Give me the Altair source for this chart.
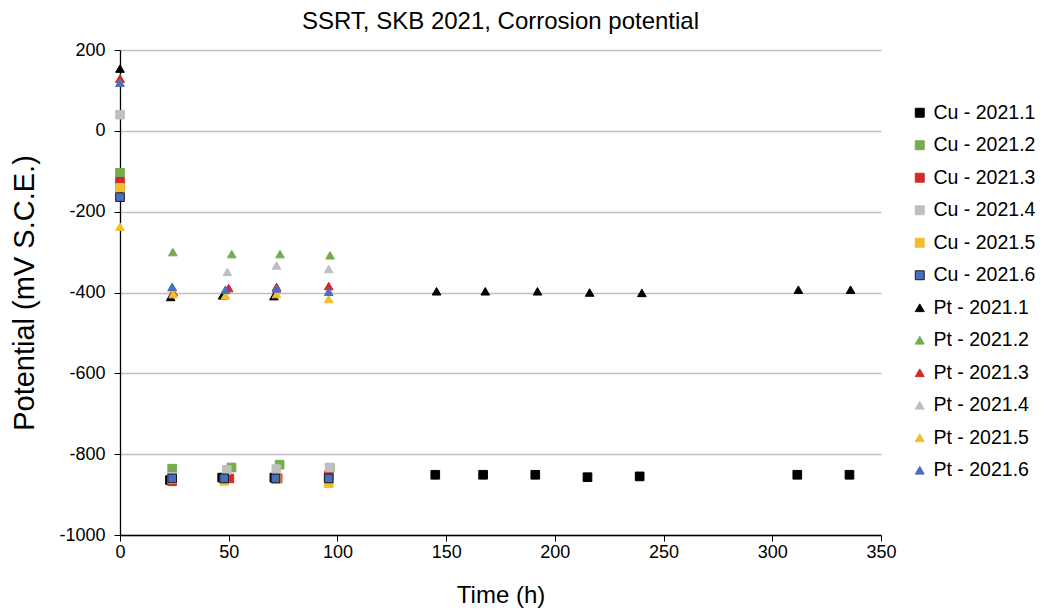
import altair as alt
import pandas as pd

series_names = ["Cu - 2021.1", "Cu - 2021.2", "Cu - 2021.3", "Cu - 2021.4", "Cu - 2021.5", "Cu - 2021.6",
                "Pt - 2021.1", "Pt - 2021.2", "Pt - 2021.3", "Pt - 2021.4", "Pt - 2021.5", "Pt - 2021.6"]

cu1_t = [0, 23, 47, 71, 145, 167, 191, 215, 239, 311.5, 335.5]
cu1_v = [-138, -864, -858, -858, -851, -851, -851, -857, -855, -851, -851]
cu2_t = [0, 24, 51.3, 73.4, 96.5]
cu2_v = [-104, -836, -833, -826, -834]
cu3_t = [0, 24, 50.3, 72.5, 96]
cu3_v = [-126, -867, -860, -860, -853]
cu4_t = [0, 24, 49.1, 71.9, 96.4]
cu4_v = [40, -856, -839, -837, -833]
cu5_t = [0, 24, 48, 72, 96]
cu5_v = [-141, -862, -866, -862, -872]
cu6_t = [0, 24, 47.9, 71.5, 96]
cu6_v = [-164, -860, -860, -860, -860]

pt1_t = [0, 23.3, 47.2, 70.8, 145.6, 168, 192, 216, 240, 312, 336]
pt1_v = [154, -411, -407, -409, -397, -397, -397, -400, -401, -393, -393]
pt2_t = [0, 24.3, 51.4, 73.6, 96.6]
pt2_v = [130, -300, -305, -305, -308]
pt3_t = [0, 24.5, 50, 72, 96]
pt3_v = [129, -399, -389, -386, -384]
pt4_t = [0, 24, 49.4, 72, 96]
pt4_v = [119, -388, -349, -333, -342]
pt5_t = [0, 24.5, 48.5, 72, 96]
pt5_v = [-237, -404, -407, -404, -416]
pt6_t = [0, 24, 48.5, 72, 96]
pt6_v = [119, -386, -393, -390, -398]

times = [cu1_t, cu2_t, cu3_t, cu4_t, cu5_t, cu6_t, pt1_t, pt2_t, pt3_t, pt4_t, pt5_t, pt6_t]
values = [cu1_v, cu2_v, cu3_v, cu4_v, cu5_v, cu6_v, pt1_v, pt2_v, pt3_v, pt4_v, pt5_v, pt6_v]

fill_colors = ["#000000", "#75AC4C", "#D02A2A", "#BFBFBF", "#F2BE2C", "#4A6EBF",
               "#000000", "#75AC4C", "#D02A2A", "#BFBFBF", "#F2BE2C", "#4A6EBF"]
stroke_colors = ["#000000", "#75AC4C", "#D02A2A", "#BFBFBF", "#F2BE2C", "#1A1A1A",
                 "#000000", "#75AC4C", "#D02A2A", "#BFBFBF", "#F2BE2C", "#4A6EBF"]
shapes = ["square"] * 6 + ["triangle-up"] * 6

x_ticks = [0, 50, 100, 150, 200, 250, 300, 350]
y_ticks = [-1000, -800, -600, -400, -200, 0, 200]

rows = []
for i, name in enumerate(series_names):
    for t, v in zip(times[i], values[i]):
        rows.append({"series": name, "order": i, "time": t, "potential": v})
df = pd.DataFrame(rows)

FONT = "Liberation Sans"
legend = alt.Legend(
    title=None, orient="none", legendX=790, legendY=53,
    labelFontSize=19.5, labelFont=FONT, labelColor="black",
    symbolSize=80, labelOffset=4, rowPadding=11.5, symbolStrokeWidth=1,
)

chart = alt.Chart(df).mark_point(filled=True, size=75, opacity=1, strokeWidth=1).encode(
    x=alt.X("time:Q", title="Time (h)",
            scale=alt.Scale(domain=[0, 350], nice=False),
            axis=alt.Axis(values=x_ticks, grid=False, labelFlush=False,
                          labelExpr="datum.value + ''",
                          labelFontSize=18, titleFontSize=24, labelPadding=2, titlePadding=22,
                          tickSize=6, domainColor="black", tickColor="black")),
    y=alt.Y("potential:Q", title="Potential (mV S.C.E.)",
            scale=alt.Scale(domain=[-1000, 200], nice=False),
            axis=alt.Axis(values=y_ticks, grid=True, labelFlush=False,
                          labelExpr="datum.value + ''",
                          gridColor="#BFBFBF", gridWidth=1.5,
                          labelFontSize=18, titleFontSize=29, labelPadding=9, titlePadding=19,
                          tickSize=6, domainColor="black", tickColor="black")),
    fill=alt.Fill("series:N", scale=alt.Scale(domain=series_names, range=fill_colors), legend=legend),
    stroke=alt.Stroke("series:N", scale=alt.Scale(domain=series_names, range=stroke_colors), legend=legend),
    shape=alt.Shape("series:N", scale=alt.Scale(domain=series_names, range=shapes), legend=legend),
    order=alt.Order("order:Q"),
).properties(
    width=761, height=485,
    title=alt.Title("SSRT, SKB 2021, Corrosion potential", fontSize=24, font=FONT,
                    fontWeight="normal", color="black", anchor="middle", offset=7),
    autosize=alt.AutoSizeParams(type="none"),
    padding={"left": 112, "top": 42, "right": 159, "bottom": 79},
).configure_view(stroke=None).configure_axis(
    labelFont=FONT, titleFont=FONT, labelColor="black", titleColor="black",
    titleFontWeight="normal", domainWidth=1.3,
)

chart.save("out.html", embed_options={"renderer": "svg", "actions": False})
